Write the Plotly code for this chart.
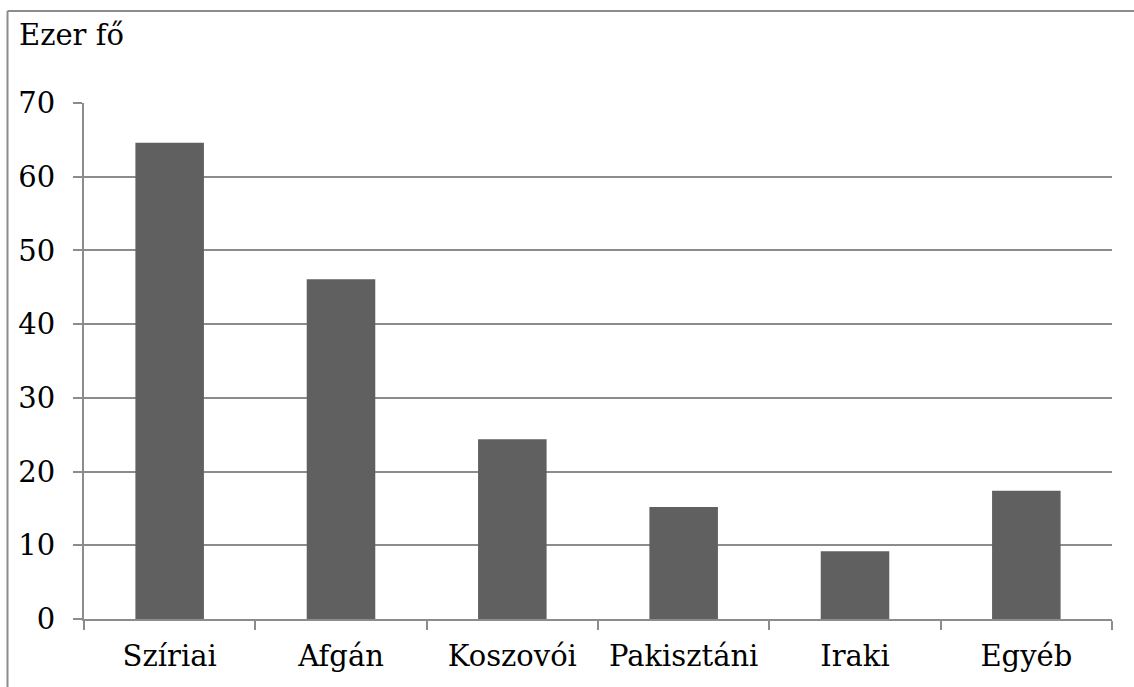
import plotly.graph_objects as go

# Asylum applicants by citizenship (thousand persons)
categories = ["Szíriai", "Afgán", "Koszovói", "Pakisztáni", "Iraki", "Egyéb"]
values = [64.6, 46.1, 24.4, 15.2, 9.2, 17.4]
y_ticks = [0, 10, 20, 30, 40, 50, 60, 70]
unit_label = "Ezer fő"

W, H = 1134, 687
ML, MR, MT, MB = 84, 22, 103, 68
PW, PH = W - ML - MR, H - MT - MB

def px_x(p):
    return (p - ML) / PW

def px_y(p):
    return (H - MB - p) / PH

GRID = "#8c8c8c"
FONT = dict(family="DejaVu Serif", size=29, color="black")

fig = go.Figure(
    go.Bar(
        x=categories,
        y=values,
        marker=dict(color="#606060", line=dict(width=0)),
        hoverinfo="x+y",
    )
)

fig.update_layout(
    width=W,
    height=H,
    margin=dict(l=ML, r=MR, t=MT, b=MB, pad=0, autoexpand=False),
    paper_bgcolor="white",
    plot_bgcolor="white",
    font=FONT,
    bargap=0.6,
    showlegend=False,
)

fig.update_xaxes(
    type="category",
    automargin=False,
    showline=True,
    linecolor=GRID,
    linewidth=2,
    ticks="outside",
    tickson="boundaries",
    ticklen=9,
    tickwidth=2,
    tickcolor=GRID,
    showgrid=False,
    ticklabelstandoff=10,
    tickfont=FONT,
)

fig.update_yaxes(
    range=[0, 70],
    automargin=False,
    tickvals=y_ticks,
    ticktext=[str(v) for v in y_ticks],
    showline=True,
    linecolor=GRID,
    linewidth=2,
    ticks="outside",
    ticklen=9,
    tickwidth=2,
    tickcolor=GRID,
    showgrid=True,
    gridcolor=GRID,
    gridwidth=2,
    zeroline=False,
    ticklabelstandoff=12,
    tickfont=FONT,
)

# Unit label above the value axis
fig.add_annotation(
    text=unit_label,
    xref="paper", yref="paper",
    x=px_x(17), y=px_y(35),
    xanchor="left", yanchor="middle",
    showarrow=False,
    font=FONT,
)

# Chart frame (top and left edges)
fig.add_shape(type="line", xref="paper", yref="paper",
              x0=px_x(7.5), x1=px_x(W + 10), y0=px_y(11), y1=px_y(11),
              line=dict(color=GRID, width=2))
fig.add_shape(type="line", xref="paper", yref="paper",
              x0=px_x(7.5), x1=px_x(7.5), y0=px_y(11), y1=px_y(H + 10),
              line=dict(color=GRID, width=2))

fig.write_html("out.html")
